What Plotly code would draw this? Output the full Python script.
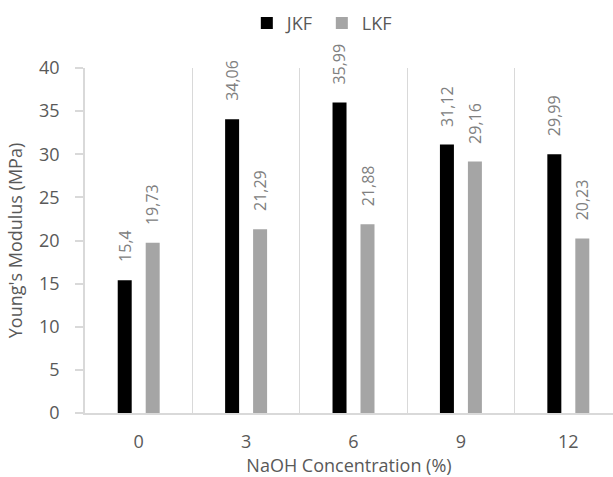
import plotly.graph_objects as go

categories = ["0", "3", "6", "9", "12"]
jkf = [15.4, 34.06, 35.99, 31.12, 29.99]
lkf = [19.73, 21.29, 21.88, 29.16, 20.23]
jkf_labels = ["15,4", "34,06", "35,99", "31,12", "29,99"]
lkf_labels = ["19,73", "21,29", "21,88", "29,16", "20,23"]
y_ticks = [0, 5, 10, 15, 20, 25, 30, 35, 40]

FONT = "Open Sans"
TXT = "#595959"
GRID = "#d9d9d9"

fig = go.Figure()
fig.add_trace(go.Bar(name="JKF", x=categories, y=jkf, marker=dict(color="#000000", line=dict(width=0))))
fig.add_trace(go.Bar(name="LKF", x=categories, y=lkf, marker=dict(color="#a5a5a5", line=dict(width=0))))

annotations = []
for series, labels, shift in ((jkf, jkf_labels, -14), (lkf, lkf_labels, 14)):
    for i, (v, t) in enumerate(zip(series, labels)):
        annotations.append(dict(
            x=i, y=v, xref="x", yref="y", text=t, showarrow=False,
            textangle=-90, xanchor="center", yanchor="bottom",
            xshift=shift, yshift=16,
            font=dict(family=FONT, size=16, color="#808080"),
        ))

fig.update_layout(
    width=613, height=477,
    margin=dict(l=85, r=0, t=68, b=64, autoexpand=False),
    paper_bgcolor="white", plot_bgcolor="white",
    barmode="group", bargap=0.479, bargroupgap=0.5,
    font=dict(family=FONT, color=TXT),
    showlegend=True,
    legend=dict(orientation="h", x=0.525, xref="container", xanchor="center",
                y=0.99, yref="container", yanchor="top",
                font=dict(family=FONT, size=18, color=TXT),
                itemwidth=30, traceorder="normal",
                entrywidth=30, entrywidthmode="pixels"),
    annotations=annotations,
)

fig.update_xaxes(
    type="category", range=[-0.5, 4.416],
    showline=True, linecolor=GRID, linewidth=1.5,
    showgrid=True, gridcolor=GRID, gridwidth=1, tickson="boundaries",
    ticks="", tickfont=dict(family=FONT, size=18, color=TXT),
    title=dict(text="NaOH Concentration (%)", font=dict(family=FONT, size=18, color=TXT), standoff=0),
    ticklabelstandoff=12,
)
fig.update_yaxes(
    range=[0, 40], tickvals=y_ticks, ticktext=[str(v) for v in y_ticks],
    showline=True, linecolor=GRID, linewidth=1.5,
    showgrid=False, zeroline=False,
    ticks="outside", ticklen=8, tickcolor=GRID, tickwidth=1.5,
    tickfont=dict(family=FONT, size=18, color=TXT),
    ticklabelstandoff=12,
    title=dict(text="Young's Modulus (MPa)", font=dict(family=FONT, size=18, color=TXT), standoff=12),
)

fig.write_html("out.html", config={"displayModeBar": False},
               post_script="document.body.style.margin='0';")
